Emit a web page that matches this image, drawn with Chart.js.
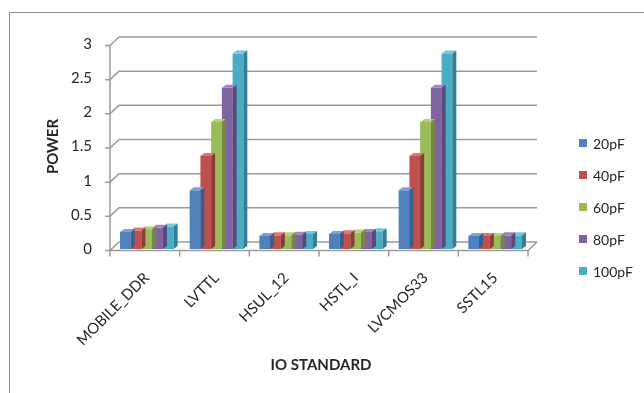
<!DOCTYPE html>
<html>
<head>
<meta charset="utf-8">
<script src="https://cdn.jsdelivr.net/npm/chart.js@4/dist/chart.umd.min.js"></script>
<style>
  html, body { margin: 0; padding: 0; background: #ffffff; }
  #wrap { position: relative; width: 644px; height: 393px; }
</style>
</head>
<body>
<div id="wrap"><canvas id="c" width="644" height="393"></canvas></div>
<script>
// IO standards on the category axis
const categories = ['MOBILE_DDR', 'LVTTL', 'HSUL_12', 'HSTL_I', 'LVCMOS33', 'SSTL15'];
// load capacitance series
const seriesLabels = ['20pF', '40pF', '60pF', '80pF', '100pF'];
const power20pF  = [0.25, 0.86, 0.19, 0.22, 0.86, 0.19];
const power40pF  = [0.27, 1.36, 0.20, 0.23, 1.36, 0.19];
const power60pF  = [0.29, 1.86, 0.20, 0.24, 1.86, 0.19];
const power80pF  = [0.31, 2.36, 0.21, 0.25, 2.36, 0.20];
const power100pF = [0.33, 2.86, 0.22, 0.26, 2.86, 0.20];
// value axis ticks
const yTicks = [0, 0.5, 1, 1.5, 2, 2.5, 3];
const yTickLabels = ['0', '0.5', '1', '1.5', '2', '2.5', '3'];

const seriesValues = [power20pF, power40pF, power60pF, power80pF, power100pF];
const faceColors = ['#4F81BD', '#C0504D', '#9BBB59', '#8064A2', '#4BACC6'];
const topColors  = ['#7ea3d2', '#d47b78', '#b6d07f', '#9d86bb', '#79c4d8'];
const sideColors = ['#36608f', '#8f3a38', '#728b3f', '#5c4779', '#2f8097'];

const FONT = 'Lato, "Open Sans", "Liberation Sans", sans-serif';
const TEXT = '#262626';
const LINE = '#9a9a9a';

// offsets of the floor/wall planes relative to the bar plane
const FRONT = { x: -2, y: 1.5 };
const BACK  = { x: 7,  y: -7 };
const BAR_DEPTH = { x: 4, y: 3 };

const frame3d = {
  id: 'frame3d',
  beforeDatasetsDraw(chart) {
    const { ctx, chartArea: a, scales: { x, y } } = chart;
    ctx.save();
    // outer chart border
    ctx.strokeStyle = '#8c8c8c';
    ctx.lineWidth = 1;
    ctx.beginPath();
    ctx.moveTo(9.5, 393); ctx.lineTo(9.5, 12.5); ctx.lineTo(644, 12.5);
    ctx.stroke();

    ctx.strokeStyle = LINE;
    ctx.lineWidth = 1.5;
    const fl = a.left + FRONT.x, fr = a.right + FRONT.x;
    const bl = a.left + BACK.x,  br = a.right + BACK.x;
    // back-wall gridlines with side-wall diagonals and tick marks
    yTicks.forEach(v => {
      const py = y.getPixelForValue(v);
      ctx.beginPath();
      ctx.moveTo(fl - 5, py + FRONT.y);
      ctx.lineTo(fl, py + FRONT.y);
      ctx.lineTo(bl, py + BACK.y);
      ctx.lineTo(br, py + BACK.y);
      ctx.stroke();
    });
    // front value axis
    ctx.beginPath();
    ctx.moveTo(fl, y.getPixelForValue(3) + FRONT.y);
    ctx.lineTo(fl, y.getPixelForValue(0) + FRONT.y);
    ctx.stroke();
    // floor outline
    const y0 = y.getPixelForValue(0);
    ctx.beginPath();
    ctx.moveTo(fl, y0 + FRONT.y);
    ctx.lineTo(fr, y0 + FRONT.y);
    ctx.lineTo(br, y0 + BACK.y);
    ctx.stroke();
    // category tick marks
    const step = (a.right - a.left) / categories.length;
    for (let i = 0; i <= categories.length; i++) {
      const px = fl + i * step;
      ctx.beginPath();
      ctx.moveTo(px, y0 + FRONT.y);
      ctx.lineTo(px, y0 + FRONT.y + 6);
      ctx.stroke();
    }
    ctx.restore();
  },
  afterDatasetDraw(chart, args) {
    const { ctx } = chart;
    const i = args.index;
    const meta = args.meta;
    ctx.save();
    meta.data.forEach(bar => {
      const p = bar.getProps(['x', 'y', 'base', 'width'], true);
      const l = p.x - p.width / 2, r = p.x + p.width / 2;
      // top face
      ctx.fillStyle = topColors[i];
      ctx.beginPath();
      ctx.moveTo(l, p.y);
      ctx.lineTo(l + BAR_DEPTH.x, p.y - BAR_DEPTH.y);
      ctx.lineTo(r + BAR_DEPTH.x, p.y - BAR_DEPTH.y);
      ctx.lineTo(r, p.y);
      ctx.closePath();
      ctx.fill();
      // side face
      ctx.fillStyle = sideColors[i];
      ctx.beginPath();
      ctx.moveTo(r, p.y);
      ctx.lineTo(r + BAR_DEPTH.x, p.y - BAR_DEPTH.y);
      ctx.lineTo(r + BAR_DEPTH.x, p.base - BAR_DEPTH.y);
      ctx.lineTo(r, p.base);
      ctx.closePath();
      ctx.fill();
    });
    ctx.restore();
  },
  afterDraw(chart) {
    // legend on the right
    const { ctx } = chart;
    ctx.save();
    ctx.font = '14px ' + FONT;
    ctx.textBaseline = 'middle';
    ctx.textAlign = 'left';
    seriesLabels.forEach((lab, i) => {
      const cy = 143 + i * 32;
      ctx.fillStyle = faceColors[i];
      ctx.fillRect(579, cy - 4, 8, 8);
      ctx.fillStyle = TEXT;
      ctx.fillText(lab, 593, cy + 1);
    });
    ctx.restore();
  }
};

new Chart(document.getElementById('c'), {
  type: 'bar',
  data: {
    labels: categories,
    datasets: seriesLabels.map((lab, i) => ({
      label: lab,
      data: seriesValues[i],
      backgroundColor: faceColors[i],
      borderWidth: 0,
      categoryPercentage: 0.77,
      barPercentage: 1.0
    }))
  },
  options: {
    responsive: false,
    animation: false,
    layout: { padding: { left: 44, right: 114, top: 44, bottom: 19 } },
    plugins: {
      legend: { display: false },
      tooltip: { enabled: false }
    },
    scales: {
      x: {
        grid: { display: false, drawTicks: false },
        border: { display: false },
        ticks: {
          color: TEXT,
          font: { family: FONT, size: 15 },
          minRotation: 45,
          maxRotation: 45,
          padding: 20,
          autoSkip: false
        },
        title: {
          display: true,
          text: 'IO STANDARD',
          color: TEXT,
          font: { family: FONT, size: 15, weight: 'bold' },
          padding: 0
        },
        afterFit(s) { s.height = 125; }
      },
      y: {
        min: 0,
        max: 3,
        afterBuildTicks(s) { s.ticks = yTicks.map(v => ({ value: v })); },
        grid: { display: false, drawTicks: false },
        border: { display: false },
        ticks: {
          color: TEXT,
          font: { family: FONT, size: 15 },
          padding: 20,
          callback: (v, idx) => yTickLabels[idx]
        },
        title: {
          display: true,
          text: 'POWER',
          color: TEXT,
          font: { family: FONT, size: 15, weight: 'bold' },
          padding: 0
        },
        afterFit(s) { s.width = 68; }
      }
    }
  },
  plugins: [frame3d]
});
</script>
</body>
</html>
